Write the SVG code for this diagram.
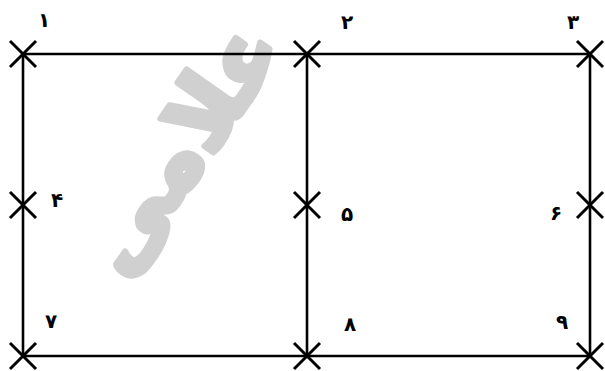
<svg xmlns="http://www.w3.org/2000/svg" width="605" height="371" viewBox="0 0 605 371">
<style>
.ln{stroke:#000;stroke-width:2.6;fill:none}
.x{stroke:#000;stroke-width:3;fill:none;stroke-linecap:butt}
.lb{font-family:"DejaVu Sans","Noto Sans",sans-serif;font-size:20px;font-weight:bold;fill:#000;text-anchor:middle}
.wm{font-family:"DejaVu Sans","Noto Sans",sans-serif;font-size:92px;font-weight:bold;fill:#d0d0d0;stroke:#d0d0d0;stroke-width:6;stroke-linejoin:round}
</style>
<defs>
<path id="cross" class="x" d="M-13,-13L13,13M13,-13L-13,13"/>
</defs>
<rect width="605" height="371" fill="#fff"/>
<text class="wm" transform="translate(205,165) rotate(-55)" text-anchor="middle">علامی</text>
<g id="connectors">
<line class="ln" x1="23" y1="54" x2="590" y2="54"/>
<line class="ln" x1="23" y1="356" x2="590" y2="356"/>
<line class="ln" x1="23" y1="54" x2="23" y2="356"/>
<line class="ln" x1="307" y1="54" x2="307" y2="356"/>
<line class="ln" x1="590" y1="54" x2="590" y2="356"/>
</g>
<g id="n1"><use href="#cross" x="23" y="54"/><text class="lb" x="44" y="27">۱</text></g>
<g id="n2"><use href="#cross" x="307" y="54"/><text class="lb" x="347" y="29">۲</text></g>
<g id="n3"><use href="#cross" x="590" y="54"/><text class="lb" x="573" y="29">۳</text></g>
<g id="n4"><use href="#cross" x="23" y="205"/><text class="lb" x="57" y="207">۴</text></g>
<g id="n5"><use href="#cross" x="307" y="205"/><text class="lb" x="347" y="221">۵</text></g>
<g id="n6"><use href="#cross" x="590" y="205"/><text class="lb" x="556" y="220">۶</text></g>
<g id="n7"><use href="#cross" x="23" y="356"/><text class="lb" x="51" y="328">۷</text></g>
<g id="n8"><use href="#cross" x="307" y="356"/><text class="lb" x="350" y="331">۸</text></g>
<g id="n9"><use href="#cross" x="590" y="356"/><text class="lb" x="562" y="329">۹</text></g>
</svg>
